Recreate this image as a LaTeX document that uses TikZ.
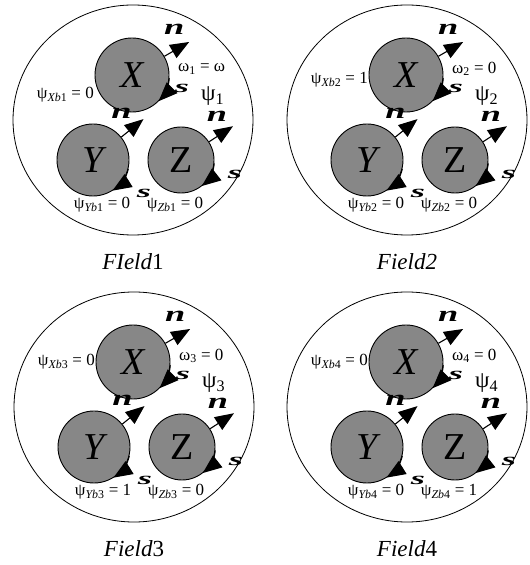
\documentclass[tikz,border=0pt]{standalone}
\usepackage{graphicx}
\usepackage{fontspec}
\setmainfont{Liberation Serif}
\usetikzlibrary{arrows.meta, calc}

\newcommand{\wideletter}[2]{\scalebox{1.65}[#1]{#2}}

\begin{document}
\begin{tikzpicture}[x=1pt, y=1pt,
  rim/.style={draw, line width=0.8pt},
  disc/.style={circle, draw, line width=0.9pt, fill=black!47, inner sep=0pt, font=\fontsize{38}{38}\selectfont\itshape},
  vec/.style={line width=1.1pt, -{Triangle[length=19pt, width=15pt]}},
  dirlbl/.style={font=\fontsize{22}{22}\selectfont\bfseries\itshape, inner sep=0pt},
  bclbl/.style={font=\fontsize{17}{17}\selectfont, inner sep=0pt},
  fldlbl/.style={font=\fontsize{23}{23}\selectfont, inner sep=0pt}]

\useasboundingbox (0,0) rectangle (530,565);

\foreach \i/\px/\py/\ttl/\xb/\xbdy/\om/\yb/\zb in {
   1/133/445/{\textit{FIeld}1}/0/25/ω/0/0,
   2/407/445/{\textit{Field2}}/1/40/0/0/0,
   3/134/158/{\textit{Field}3}/0/45/0/1/0,
   4/407/158/{\textit{Field}4}/0/45/0/0/1} {
   % field boundary
   \draw[rim] (\px,\py) ellipse [x radius=120, y radius=115];

   % bodies
   \node[disc, minimum size=74pt] (X\i) at (\px-1,\py+45) {X};
   \node[disc, minimum size=72pt] (Y\i) at (\px-40,\py-40) {Y};
   \node[disc, minimum size=66pt] (Z\i) at (\px+48,\py-40) {\upshape Z};

   % normal and tangent directions
   \foreach \b/\r/\a/\nx/\ny/\sb/\se/\sx/\sy in {X/37/30/-15/13/-5/-45/50/-13, Y/36/39/-22/6/-14/-58/51/-33, Z/33/33/-16/10/-6/-52/54/-14} {
      \coordinate (\b n\i) at ($(\b\i.center)+(\a:\r+29)$);
      \draw[vec] (\b\i.\a) -- (\b n\i);
      \node[dirlbl] (\b nl\i) at ($(\b n\i)+(\nx,\ny)$) {\wideletter{1}{n}};
      \draw[vec] (\b\i.\sb) arc[start angle=\sb, end angle=\se, radius=\r];
      \node[dirlbl] (\b sl\i) at ($(\b\i.center)+(\sx,\sy)$) {\wideletter{0.8}{s}};
   }

   % boundary values
   \node[bclbl, anchor=east] (psx\i) at (\px-39,\py+\xbdy) {ψ\textsubscript{\textit{Xb}\i} = \xb};
   \node[bclbl, anchor=west] (om\i) at (\px+45,\py+51) {ω\textsubscript{\i} = \om};
   \node[font=\fontsize{23}{23}\selectfont, inner sep=0pt, anchor=west] (ps\i) at (\px+68,\py+24) {ψ\textsubscript{\i}};
   \node[bclbl] (psy\i) at (\px-31,\py-85) {ψ\textsubscript{\textit{Yb}\i} = \yb};
   \node[bclbl] (psz\i) at (\px+42,\py-85) {ψ\textsubscript{\textit{Zb}\i} = \zb};

   \node[fldlbl] (fld\i) at (\px,\py-142) {\ttl};
}
\end{tikzpicture}
\end{document}
